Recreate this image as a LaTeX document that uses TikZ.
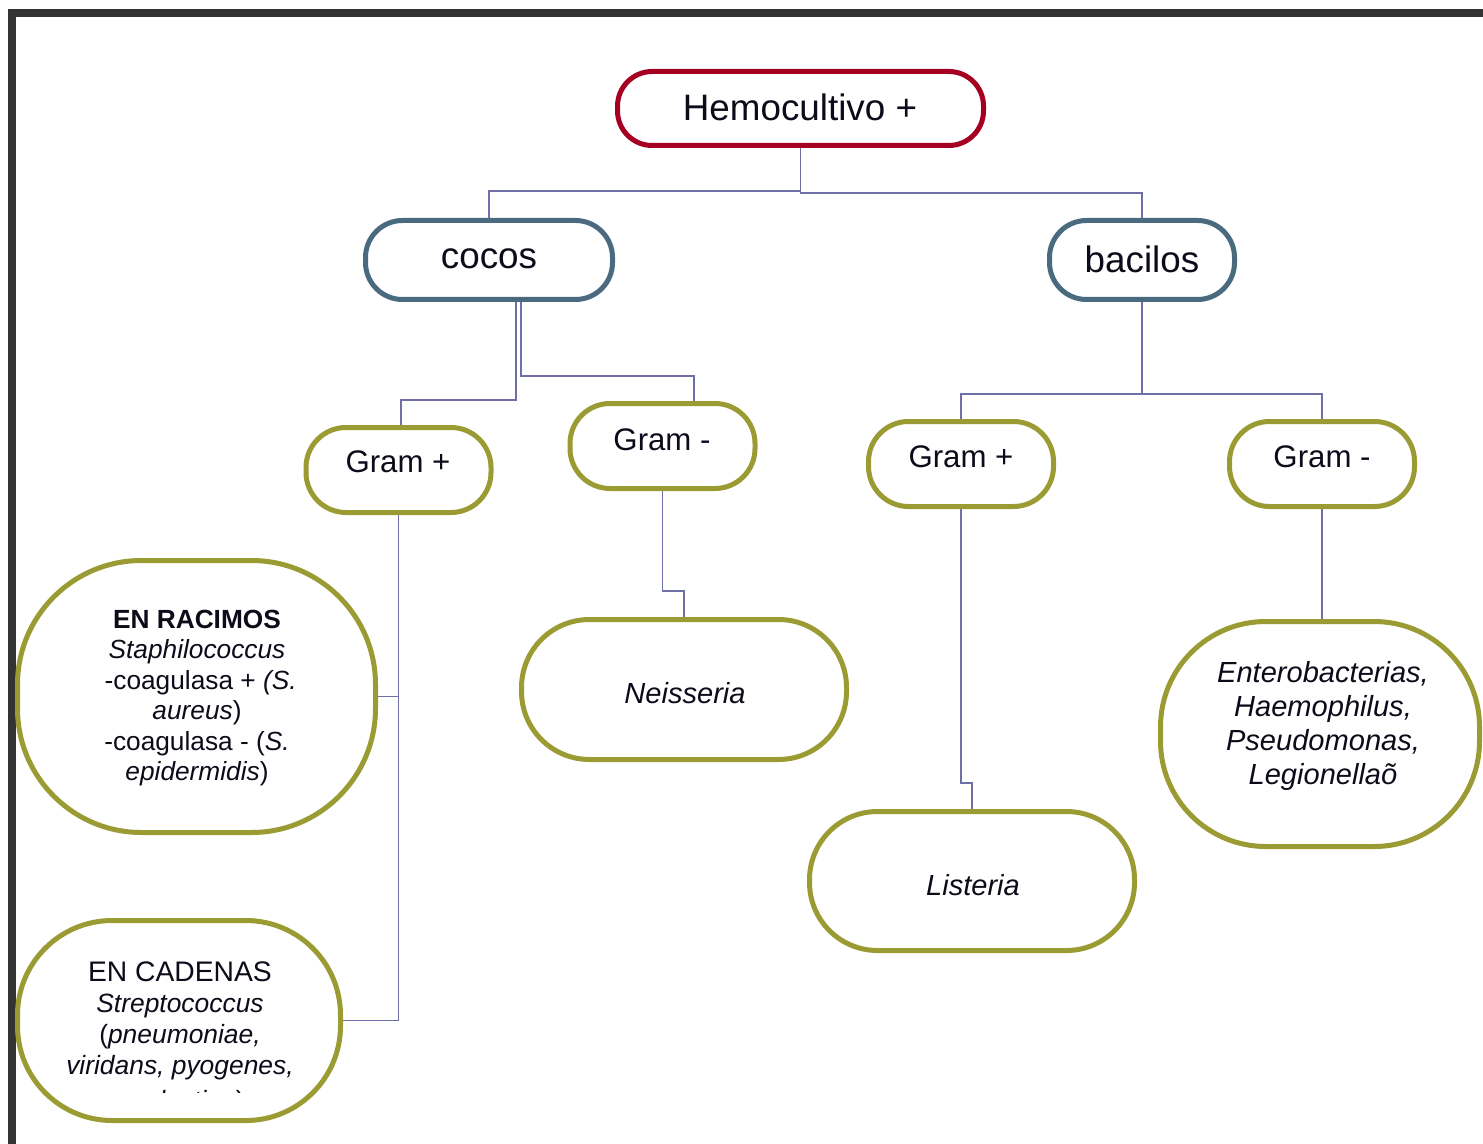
\documentclass[tikz,border=0pt]{standalone}
\usepackage{fontspec}
\setmainfont{Liberation Sans}
\usetikzlibrary{backgrounds}
\definecolor{hemored}{HTML}{A50021}
\definecolor{steel}{HTML}{4A6A80}
\definecolor{olivec}{HTML}{9B9B34}
\definecolor{conncol}{HTML}{6F6FA8}
\definecolor{framecol}{HTML}{333333}
\definecolor{txt}{HTML}{0B0B1A}
\begin{document}
\begin{tikzpicture}[x=0.75pt,y=-0.75pt,
  shp/.style={draw, line width=3.75pt, inner sep=0pt, fill=white},
  redbox/.style={shp, draw=hemored},
  bluebox/.style={shp, draw=steel},
  olivebox/.style={shp, draw=olivec},
  lbl/.style={text=txt, inner sep=0pt, align=center},
  conn/.style={draw=conncol, line width=1.4pt},
  big/.style={lbl, font=\fontsize{27.6}{33}\selectfont},
  mid/.style={lbl, font=\fontsize{23.4}{28}\selectfont},
  small/.style={lbl, font=\fontsize{19.7}{22.9}\selectfont},
  cadtext/.style={lbl, font=\fontsize{19.8}{23.2}\selectfont},
  leaf/.style={lbl, font=\fontsize{21.8}{25.3}\selectfont}]
\useasboundingbox (0,0) rectangle (1483,1144);
% frame
\fill[framecol] (8,9) rectangle (1483,17);
\fill[framecol] (8,9) rectangle (16,1144);

% shapes
\node[redbox, minimum width=274.5pt, minimum height=55.5pt, rounded corners=26pt] (hemo) at (800.5,108.5) {};
\node[bluebox, minimum width=185.25pt, minimum height=59.25pt, rounded corners=27.75pt] (cocos) at (489,260) {};
\node[bluebox, minimum width=138.75pt, minimum height=59.25pt, rounded corners=27.75pt] (bac) at (1142,260) {};
\node[olivebox, minimum width=138.75pt, minimum height=63.75pt, rounded corners=30pt] (g1) at (398.5,470) {};
\node[olivebox, minimum width=138.75pt, minimum height=63.75pt, rounded corners=30pt] (g2) at (662.5,446) {};
\node[olivebox, minimum width=138.75pt, minimum height=63.75pt, rounded corners=30pt] (g3) at (961,464) {};
\node[olivebox, minimum width=138.75pt, minimum height=63.75pt, rounded corners=30pt] (g4) at (1322,464) {};
\node[olivebox, minimum width=268.5pt, minimum height=204pt, rounded corners=93pt] (rac) at (196.5,696.5) {};
\node[olivebox, minimum width=242.25pt, minimum height=150pt, rounded corners=71pt] (cad) at (179,1020.5) {};
\node[olivebox, minimum width=243.75pt, minimum height=105pt, rounded corners=51pt] (neis) at (684,689.5) {};
\node[olivebox, minimum width=243.75pt, minimum height=104.25pt, rounded corners=51pt] (list) at (972,881) {};
\node[olivebox, minimum width=239.25pt, minimum height=168.75pt, rounded corners=79pt] (ent) at (1320,734) {};

% connectors
\begin{scope}[on background layer]
\draw[conn] (hemo.south) -- (hemo.south |- 0,191) -| (cocos.north);
\draw[conn] (hemo.south) -- (hemo.south |- 0,193) -| (bac.north);
\draw[conn] (cocos.south -| 516,0) |- (401,400) -- (g1.north -| 401,0);
\draw[conn] (cocos.south -| 521,0) |- (694,376) -- (g2.north -| 694,0);
\coordinate (bsplit) at (1142,394);
\draw[conn] (bac.south) -- (bsplit) -| (g3.north);
\draw[conn] (bsplit) -| (g4.north);
\draw[conn] (g1.south) |- (rac.east);
\draw[conn] (g1.south) |- (cad.east);
\draw[conn] (g2.south) -- (g2.south |- 0,591) -| (neis.north);
\draw[conn] (g3.south) -- (g3.south |- 0,783) -| (list.north);
\draw[conn] (g4.south) -- (g4.south |- ent.north);
\end{scope}

% labels
\node[big] (themo) at (800,107) {Hemocultivo +};
\node[big] (tcocos) at (489,259) {cocos};
\node[big] (tbac) at (1142,259) {bacilos};
\node[mid] (tg1) at (398,462) {Gram +};
\node[mid] (tg2) at (662,440) {Gram -};
\node[mid] (tg3) at (961,457) {Gram +};
\node[mid] (tg4) at (1322,457) {Gram -};
\node[small] (trac) at (197,698) {\textbf{EN RACIMOS}\\ \textit{Staphilococcus}\\ \ -coagulasa + \textit{(S.}\\ \textit{aureus})\\ -coagulasa - (\textit{S.}\\ \textit{epidermidis})};
\node[cadtext] (tcad) at (180,1020.5) {{\fontsize{21.2}{23.2}\selectfont EN CADENAS}\\ \textit{Streptococcus}\\ (\textit{pneumoniae,}\\ \textit{viridans, pyogenes,}};
\begin{scope}
\clip (0,0) rectangle (1483,1092);
\node[cadtext, anchor=base] (tcad2) at (180,1109) {\textit{agalactiae})};
\end{scope}
\node[leaf] (tneis) at (685,693) {\textit{Neisseria}};
\node[leaf] (tlist) at (973,885) {\textit{Listeria}};
\node[leaf] (tent) at (1323,726) {\textit{Enterobacterias,}\\ \textit{Haemophilus,}\\ \textit{Pseudomonas,}\\ \textit{Legionellaõ}};
\end{tikzpicture}
\end{document}
